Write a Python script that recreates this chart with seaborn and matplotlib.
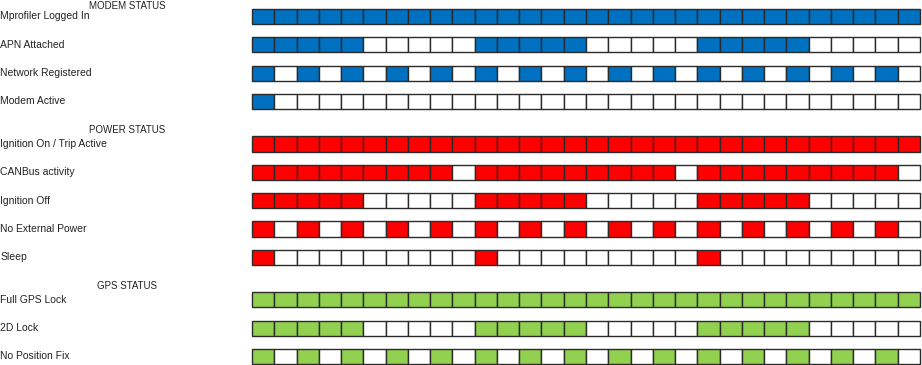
import matplotlib
matplotlib.use('Agg')
import matplotlib.pyplot as plt
import pandas as pd
import seaborn as sns

# status groups, row labels and on/off pattern per time slot (1 = active)
groups = ["MODEM STATUS", "POWER STATUS", "GPS STATUS"]
group_colors = ["#0070C0", "#FF0000", "#92D050"]

modem_rows = ["Mprofiler Logged In", "APN Attached", "Network Registered", "Modem Active"]
modem_states = [
    "111111111111111111111111111111",
    "111110000011111000001111100000",
    "101010101010101010101010101010",
    "100000000000000000000000000000",
]

power_rows = ["Ignition On / Trip Active", "CANBus activity", "Ignition Off",
              "No External Power", "Sleep"]
power_states = [
    "111111111111111111111111111111",
    "111111111011111111101111111110",
    "111110000011111000001111100000",
    "101010101010101010101010101010",
    "100000000010000000001000000000",
]

gps_rows = ["Full GPS Lock", "2D Lock", "No Position Fix"]
gps_states = [
    "111111111111111111111111111111",
    "111110000011111000001111100000",
    "101010101010101010101010101010",
]

sns.set_theme(style="white")
plt.rcParams['font.family'] = ['Liberation Sans Narrow', 'Liberation Sans', 'DejaVu Sans']

fig = plt.figure(figsize=(9.22, 3.65), dpi=100)
ax = fig.add_axes([0, 0, 1, 1])

records = []
header_pos = []
pos = 0.0
for g, (name, rows, states) in enumerate(zip(groups,
                                             [modem_rows, power_rows, gps_rows],
                                             [modem_states, power_states, gps_states])):
    # first header sits right at the top edge, keep it inside the canvas
    header_pos.append((name, pos - (0.36 if g == 0 else 0.48)))
    for label, pattern in zip(rows, states):
        for i, ch in enumerate(pattern):
            records.append({"row": label, "y": pos, "slot": i,
                            "on": ch == "1", "color": group_colors[g]})
        pos += 1
    pos += 0.5

df = pd.DataFrame(records)
n_slots = df["slot"].max() + 1

ax.bar(df["slot"], height=0.53, bottom=df["y"] - 0.265, width=1.0, align="edge",
       color=[c if on else "white" for c, on in zip(df["color"], df["on"])],
       edgecolor="#2b2b2b", linewidth=1.0)

x0 = -11.32
for label, y in df.groupby("row", sort=False)["y"].first().items():
    ax.text(x0 + 0.02, y, label, ha="left", va="center", fontsize=7.5, color="#222222")
for name, y in header_pos:
    ax.text(-5.61, y, name, ha="center", va="center", fontsize=7, color="#222222")

ax.set_xlim(x0, n_slots + 0.09)
ax.set_ylim(12.30, -0.582)
ax.axis("off")

fig.savefig("out.png", dpi=100)
